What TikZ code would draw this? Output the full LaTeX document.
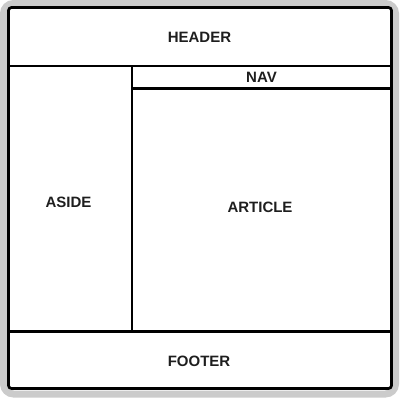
\documentclass[tikz,border=0pt]{standalone}
\usepackage{fontspec}
\setmainfont{Liberation Sans}
\definecolor{framegray}{HTML}{CBCBCB}
\definecolor{labelink}{HTML}{1E1E1E}
\tikzset{
  frame/.style={draw=framegray, line width=7pt, rounded corners=10pt},
  wall/.style={draw=black, line width=2.7pt},
  part/.style={draw=black, line width=2.5pt},
  label/.style={font=\bfseries\fontsize{15}{18}\selectfont, text=labelink, inner sep=0pt}
}
\begin{document}
\begin{tikzpicture}[x=1pt, y=-1pt]
\useasboundingbox (0,0) rectangle (420,418);
\draw[frame] (3.5,3.5) rectangle (395.5,394);
\draw[wall, rounded corners=3pt] (8.5,7.5) rectangle (391.5,388.5);
\coordinate (hl) at (8.5,66);
\coordinate (hr) at (391.5,66);
\coordinate (fl) at (8.5,331.5);
\coordinate (fr) at (391.5,331.5);
\coordinate (at) at (132,66);
\coordinate (ab) at (132,331.5);
\coordinate (nl) at (132,88.5);
\coordinate (nr) at (391.5,88.5);
\draw[part] (hl) -- (hr);
\draw[part] (fl) -- (fr);
\draw[part] (at) -- (ab);
\draw[part] (nl) -- (nr);
\node[label] (header) at (199.5,37.5) {HEADER};
\node[label] (nav) at (261.5,77) {NAV};
\node[label] (aside) at (68.5,202) {ASIDE};
\node[label] (article) at (260,207.5) {ARTICLE};
\node[label] (footer) at (199,361.5) {FOOTER};
\end{tikzpicture}
\end{document}
